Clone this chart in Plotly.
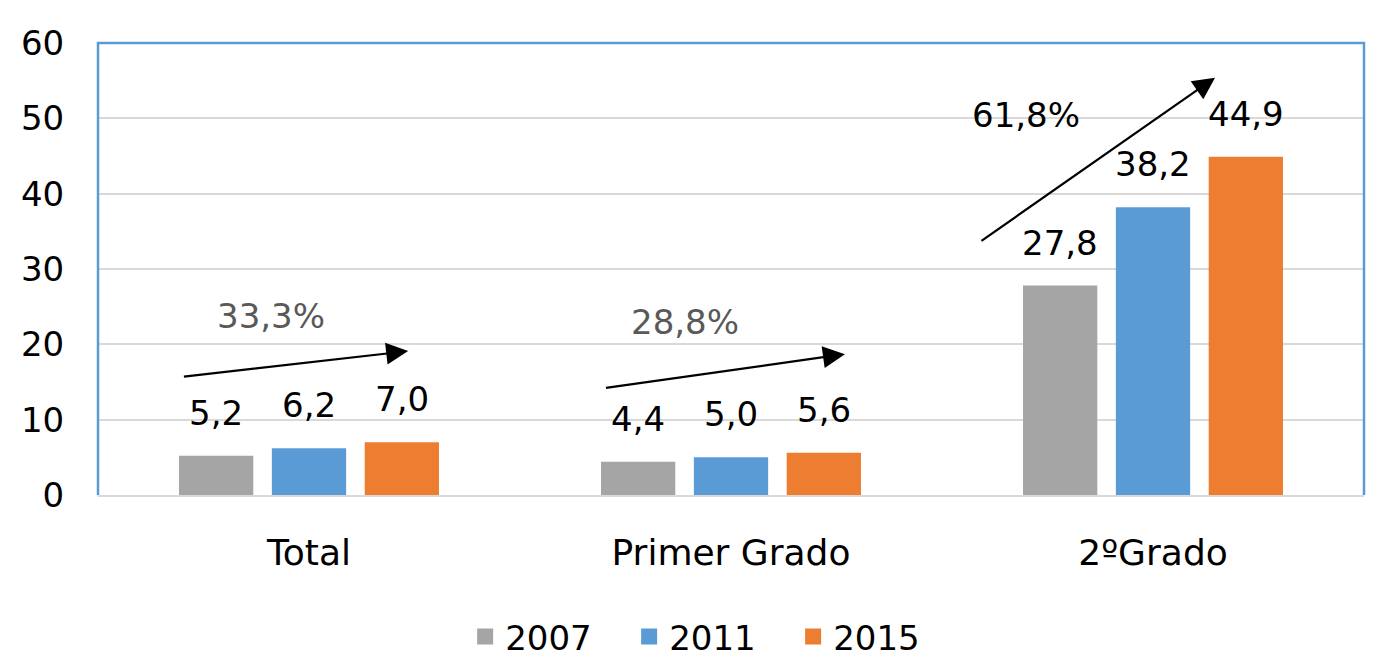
import plotly.graph_objects as go

# =========================
# Data
# =========================

categories = ['Total', 'Primer Grado', '2ºGrado']
years = ['2007', '2011', '2015']
values_2007 = [5.2, 4.4, 27.8]
values_2011 = [6.2, 5.0, 38.2]
values_2015 = [7.0, 5.6, 44.9]
growth_labels = ['33,3%', '28,8%', '61,8%']
y_ticks = [0, 10, 20, 30, 40, 50, 60]

colors = ['#A5A5A5', '#5B9BD5', '#ED7D31']
font_family = 'DejaVu Sans, sans-serif'

# =========================
# Layout numbers
# =========================

# page body has an 8px margin, so the figure is sized to fit inside it
W, H = 1366, 656
M = dict(l=90, r=10, t=35, b=169)
bargap = 0.34
bargroupgap = 0.2

plot_w = W - M['l'] - M['r']
slot = plot_w / len(categories) * (1 - bargap) / len(years)

# =========================
# Figure
# =========================

fig = go.Figure()

series = [values_2007, values_2011, values_2015]
for s, (name, vals, color) in enumerate(zip(years, series, colors)):
    fig.add_trace(go.Bar(
        x=categories,
        y=vals,
        name=name,
        marker=dict(color=color, line=dict(width=0)),
        showlegend=False,
    ))
    # legend entry with a bigger square
    fig.add_trace(go.Scatter(
        x=[None], y=[None], mode='markers', name=name,
        marker=dict(symbol='square', size=24, color=color),
    ))
    # value labels above the bars
    for cat, v in zip(categories, vals):
        fig.add_annotation(
            x=cat, y=v, xref='x', yref='y',
            text=f'{v:.1f}'.replace('.', ','),
            showarrow=False, yanchor='middle',
            xshift=(s - 1) * slot, yshift=43,
            font=dict(size=34, color='black', family=font_family),
        )

# Growth arrows (data coords: category index, value)
arrows = [
    # (x_tail, y_tail, x_head, y_head, label_x, label_y, label_color)
    (-0.30, 15.7, 0.235, 19.1, -0.09, 23.8, '#595959'),
    (0.70, 14.2, 1.27, 18.7, 0.89, 23.0, '#595959'),
    (1.59, 33.6, 2.147, 55.4, 1.70, 50.4, 'black'),
]

for (xt, yt, xh, yh, lx, ly, lc), label in zip(arrows, growth_labels):
    fig.add_annotation(
        x=xh, y=yh, ax=xt, ay=yt,
        xref='x', yref='y', axref='x', ayref='y',
        showarrow=True, arrowhead=2, arrowsize=2.0, arrowwidth=2.2,
        arrowcolor='black', text='',
    )
    fig.add_annotation(
        x=lx, y=ly, xref='x', yref='y',
        text=label, showarrow=False,
        font=dict(size=34, color=lc, family=font_family),
    )

# Blue frame on left, top, right
fig.add_shape(
    type='path', xref='paper', yref='paper',
    path='M 0 0 L 0 1 L 1 1 L 1 0',
    line=dict(color='#5B9BD5', width=2.5),
    layer='above',
)

fig.update_layout(
    barmode='group',
    bargap=bargap,
    bargroupgap=bargroupgap,
    width=W,
    height=H,
    margin=dict(**M, autoexpand=False),
    paper_bgcolor='white',
    plot_bgcolor='white',
    font=dict(family=font_family, color='black'),
    legend=dict(
        orientation='h',
        x=0.29, xanchor='left',
        y=-0.25, yanchor='top',
        font=dict(size=34, color='black'),
        itemsizing='trace',
        entrywidth=119, entrywidthmode='pixels',
        traceorder='normal',
    ),
    xaxis=dict(
        automargin=False,
        showline=True, linecolor='#D9D9D9', linewidth=2,
        tickfont=dict(size=36, color='black'),
        ticks='outside', ticklen=25, tickcolor='rgba(0,0,0,0)',
        showgrid=False,
    ),
    yaxis=dict(
        automargin=False,
        range=[0, 60],
        tickvals=y_ticks,
        tickfont=dict(size=34, color='black'),
        showgrid=True, gridcolor='#D9D9D9', gridwidth=2,
        zeroline=False,
        ticks='outside', ticklen=26, tickcolor='rgba(0,0,0,0)',
    ),
)

fig.write_html('out.html')
